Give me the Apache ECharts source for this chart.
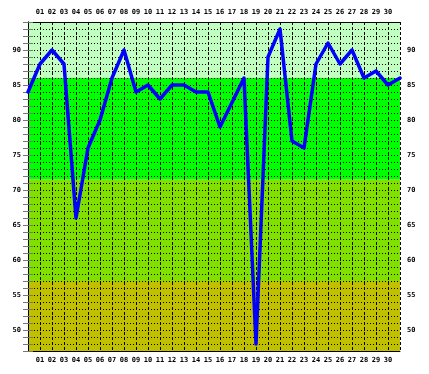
<!DOCTYPE html>
<html><head><meta charset="utf-8">
<script src="https://cdn.jsdelivr.net/npm/echarts@6/dist/echarts.min.js"></script>
<style>html,body{margin:0;padding:0;background:#fff}#c{width:429px;height:374px}</style>
</head><body><div id="c"></div><script>
// day index (0 = last day of previous month, 31 = first of next)
const days = [0,1,2,3,4,5,6,7,8,9,10,11,12,13,14,15,16,17,18,19,20,21,22,23,24,25,26,27,28,29,30,31];
const values = [84,88,90,88,66,76,80,86,90,84,85,83,85,85,84,84,79,82.5,86,48,89,93,77,76,88,91,88,90,86,87,85,86];
const dayLabels = ['01','02','03','04','05','06','07','08','09','10','11','12','13','14','15','16','17','18','19','20','21','22','23','24','25','26','27','28','29','30'];
const yRange = [47, 94];
const bandEdges = [57, 71.5, 86, 94];
const bandColors = ['#c0c000','#80e000','#00ff00','#c0ffc0'];

const font = {fontFamily:'DejaVu Sans Mono', fontWeight:'bold', fontSize:7, color:'#000'};
const xLabel = v => (v>=1 && v<=30) ? dayLabels[v-1] : '';
const yLabel = v => (v % 5 === 0) ? String(v) : '';

const bandSeries = bandEdges.map((e,i)=>({
  type:'bar', xAxisIndex:2, yAxisIndex:0, stack:'bands', barWidth:'100%',
  data:[i===0 ? e : e - bandEdges[i-1]], itemStyle:{color:bandColors[i]},
  silent:true, z:0, animation:false
}));

const xBase = {type:'value', min:0, max:31, interval:1, z:1,
  axisLine:{show:true, lineStyle:{color:'#000', width:1}}, axisTick:{show:false},
  axisLabel:Object.assign({formatter:xLabel, margin:6}, font)};
const yBase = {type:'value', min:yRange[0], max:yRange[1], interval:1, z:1,
  axisLine:{show:true, lineStyle:{color:'#000', width:1}},
  axisTick:{show:true, length:5, lineStyle:{color:'#777'}},
  axisLabel:Object.assign({formatter:yLabel, margin:7}, font)};

const chart = echarts.init(document.getElementById('c'), null, {renderer:'canvas'});
chart.setOption({
  animation:false,
  backgroundColor:'#fff',
  grid:{left:28, right:29, top:22, bottom:23, containLabel:false},
  xAxis:[
    Object.assign({}, xBase, {position:'bottom', splitLine:{show:true, lineStyle:{color:'#000', type:[3,2], width:1}}}),
    Object.assign({}, xBase, {position:'top', splitLine:{show:false}}),
    {type:'category', data:['b'], show:false, boundaryGap:true}
  ],
  yAxis:[
    Object.assign({}, yBase, {position:'left', splitLine:{show:true, lineStyle:{color:'#000', type:[1,2], width:1}}}),
    Object.assign({}, yBase, {position:'right', splitLine:{show:false}})
  ],
  series: bandSeries.concat([{
    type:'line', xAxisIndex:0, yAxisIndex:0, z:3,
    data: days.map((d,i)=>[d, values[i]]),
    showSymbol:false, symbol:'none',
    lineStyle:{color:'#0000ff', width:3.5, join:'round', cap:'round'}
  }])
});
</script></body></html>
